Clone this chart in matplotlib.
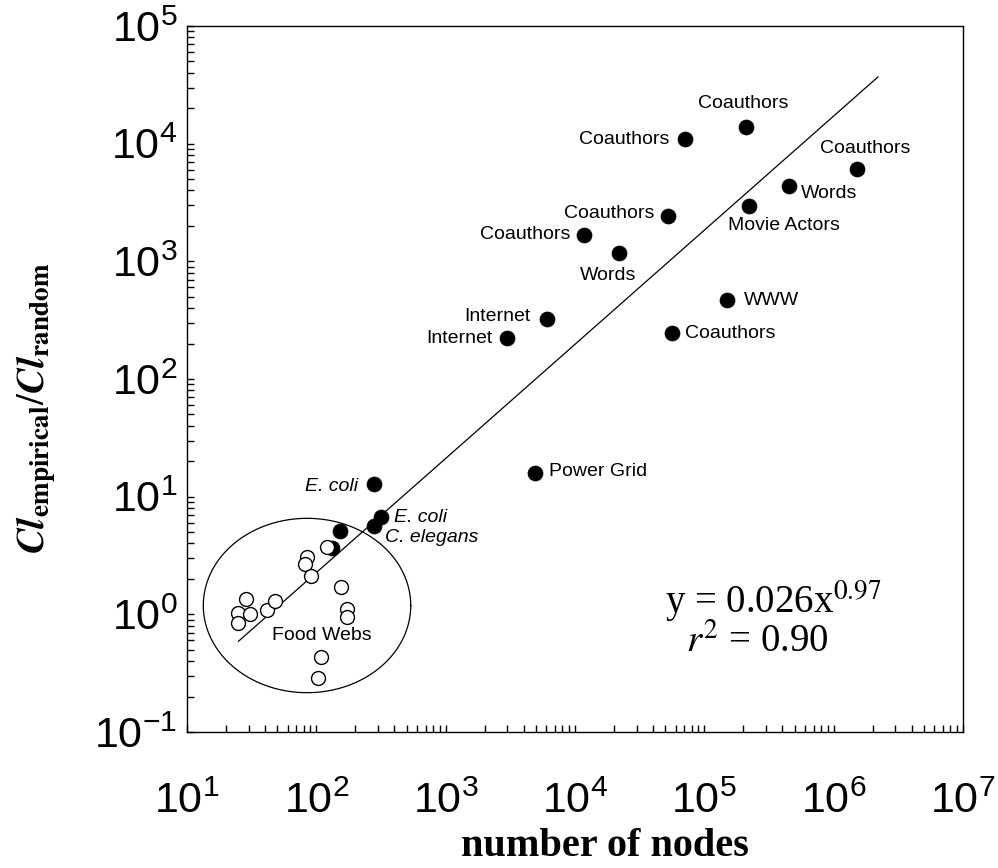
import numpy as np
import matplotlib
matplotlib.use("Agg")
import matplotlib.pyplot as plt
from matplotlib.ticker import LogLocator, NullFormatter, FuncFormatter

plt.rcParams['font.family'] = ['Liberation Sans', 'DejaVu Sans']
plt.rcParams['mathtext.fontset'] = 'custom'
plt.rcParams['mathtext.rm'] = 'Liberation Sans'
plt.rcParams['mathtext.it'] = 'Liberation Sans:italic'
plt.rcParams['mathtext.bf'] = 'Liberation Sans:bold'
plt.rcParams['axes.unicode_minus'] = False

# ---- data ----
filled_nodes = [2.09e5, 7.1e4, 1.51e6, 4.54e5, 2.23e5, 5.24e4, 1.18e4, 2.2e4,
                6.1e3, 3.0e3, 1.51e5, 5.6e4, 4.9e3, 279, 314, 279, 152, 131.5]
filled_ratio = [1.39e4, 1.09e4, 6.05e3, 4.4e3, 2.95e3, 2.43e3, 1.67e3, 1.18e3,
                324, 224, 469, 245, 16.0, 12.8, 6.67, 5.66, 5.1, 3.68]
filled_labels = ["Coauthors", "Coauthors", "Coauthors", "Words", "Movie Actors",
                 "Coauthors", "Coauthors", "Words", "Internet", "Internet", "WWW",
                 "Coauthors", "Power Grid", "E. coli", "E. coli", "C. elegans", "", ""]

open_nodes = [121.6, 85.1, 82.2, 91.0, 154, 172, 172, 28.8, 24.9, 30.7, 24.9,
              41.8, 47.7, 108.6, 102.4]
open_ratio = [3.76, 3.05, 2.68, 2.10, 1.72, 1.10, 0.955, 1.35, 1.02, 1.0, 0.85,
              1.09, 1.31, 0.436, 0.286]

fit_coef = 0.026
fit_exp = 0.97
fit_r2 = 0.90
fit_range = [25, 2.2e6]

# ellipse around food webs (log10 centre, log10 half-axes)
ell_center = (1.928, 0.075)
ell_half = (0.802, 0.741)
foodweb_label_pos = (110.7, 0.655)

# ---- label layout (offsets in points, alignment) ----
label_style = [
    ((-1.5, 17), 'center'), ((-11.5, 0), 'right'), ((6, 15), 'center'),
    ((8, -6), 'left'), ((25, -14), 'center'), ((-10, 1.5), 'right'),
    ((-10, 0.7), 'right'), ((-8, -16.5), 'center'), ((-12, 1.5), 'right'),
    ((-11, -0.7), 'right'), ((11.5, 0), 'left'), ((9.4, 0), 'left'),
    ((10, 0.7), 'left'), ((-11.5, -2), 'right'), ((9.4, 0), 'left'),
    ((8, -8.6), 'left'), ((0, 0), 'left'), ((0, 0), 'left'),
]

fig = plt.figure(figsize=(9.98, 8.68), dpi=100)
ax = fig.add_axes([187/998, (868-732)/868, 776/998, 706/868])
ax.set_xscale('log')
ax.set_yscale('log')
ax.set_xlim(1e1, 1e7)
ax.set_ylim(1e-1, 1e5)

# fit line
xf = np.array(fit_range)
ax.plot(xf, fit_coef * xf ** fit_exp, color='black', lw=0.9, zorder=2)

# ellipse
t = np.linspace(0, 2*np.pi, 400)
ax.plot(10 ** (ell_center[0] + ell_half[0]*np.cos(t)),
        10 ** (ell_center[1] + ell_half[1]*np.sin(t)),
        color='black', lw=0.9, zorder=2)

ax.plot(filled_nodes, filled_ratio, 'o', ms=10.8, mfc='black', mec='black',
        mew=0.5, zorder=3, ls='none')
for xo, yo in zip(open_nodes, open_ratio):
    ax.plot([xo], [yo], 'o', ms=10, mfc='white', mec='black', mew=1.0, zorder=4)

for xv, yv, lab, (off, ha) in zip(filled_nodes, filled_ratio, filled_labels, label_style):
    if not lab:
        continue
    style = 'italic' if lab in ("E. coli", "C. elegans") else 'normal'
    ax.annotate(lab, (xv, yv), xytext=off, textcoords='offset points',
                ha=ha, va='center', fontsize=14, fontstyle=style, zorder=5)

ax.text(foodweb_label_pos[0], foodweb_label_pos[1], "Food Webs", ha='center',
        va='center', fontsize=14, zorder=5)

# equation
ax.text(0.616, 0.1686, r'y = %.3fx$^{%.2f}$' % (fit_coef, fit_exp),
        transform=ax.transAxes, family='Liberation Serif', fontsize=28,
        ha='left', va='baseline', math_fontfamily='stix')
ax.text(0.643, 0.1133, r'$r^{2}$ = %.2f' % fit_r2,
        transform=ax.transAxes, family='Liberation Serif', fontsize=28,
        ha='left', va='baseline', math_fontfamily='stix')

# ticks
ax.xaxis.set_major_locator(LogLocator(base=10, numticks=10))
ax.yaxis.set_major_locator(LogLocator(base=10, numticks=10))
ax.xaxis.set_minor_locator(LogLocator(base=10, subs=np.arange(2, 10), numticks=20))
ax.yaxis.set_minor_locator(LogLocator(base=10, subs=np.arange(2, 10), numticks=20))
ax.xaxis.set_minor_formatter(NullFormatter())
ax.yaxis.set_minor_formatter(NullFormatter())
fmt = FuncFormatter(lambda v, p: r'$\mathregular{10^{%d}}$' % int(round(np.log10(v))))
ax.xaxis.set_major_formatter(fmt)
ax.yaxis.set_major_formatter(fmt)
ax.tick_params(which='both', direction='in', top=False, right=False,
               length=5, width=1.0, labelsize=31)
ax.tick_params(axis='x', which='major', pad=36)
ax.tick_params(axis='y', which='major', pad=7)
for sp in ax.spines.values():
    sp.set_linewidth(1.0)

fig.text(605/998, (868-846)/868, 'number of nodes', family='Liberation Serif',
         fontweight='bold', fontsize=29, ha='center', va='center')
fig.text(36/998, (868-408)/868,
         r'$\mathbfit{Cl}_{\mathbf{empirical}}/\mathbfit{Cl}_{\mathbf{random}}$',
         rotation=90, fontsize=28, ha='center', va='center', math_fontfamily='stix')

fig.savefig('out.png', dpi=100)
